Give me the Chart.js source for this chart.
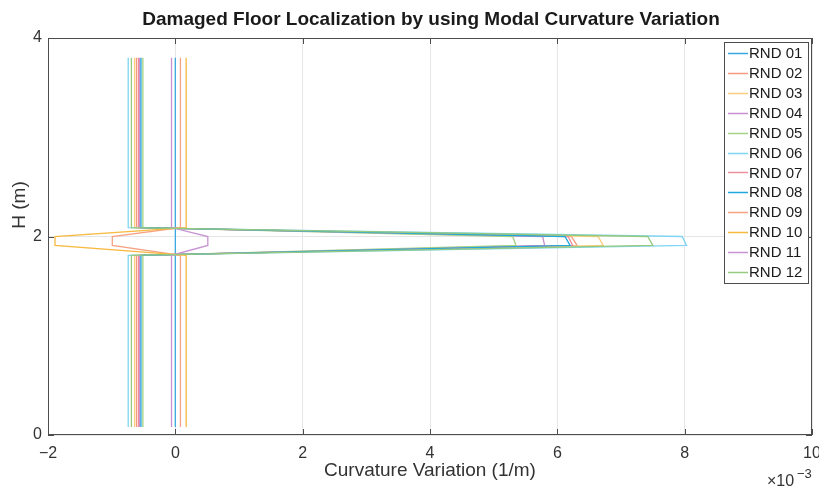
<!DOCTYPE html>
<html>
<head>
<meta charset="utf-8">
<script src="https://cdn.jsdelivr.net/npm/chart.js@4/dist/chart.umd.min.js"></script>
<style>
  body { margin: 0; background: #fff; }
  canvas { display: block; }
</style>
</head>
<body>
<canvas id="floorChart" width="819" height="486"></canvas>
<script>
// heights (m) where each curve changes direction
const heights = [0.08, 1.81, 1.91, 2.0, 2.09, 3.8];

// curvature variation (x 1e-3 1/m) at each height, one array per run
const rnd01 = [0, 0, 0, 0, 0, 0];
const rnd02 = [-0.61, -0.61, 6.31, 6.22, -0.61, -0.61];
const rnd03 = [-0.64, -0.64, 6.72, 6.64, -0.64, -0.64];
const rnd04 = [-0.56, -0.56, 5.80, 5.77, -0.56, -0.56];
const rnd05 = [-0.51, -0.51, 5.35, 5.30, -0.51, -0.51];
const rnd06 = [-0.74, -0.74, 8.03, 7.96, -0.74, -0.74];
const rnd07 = [-0.58, -0.58, 6.24, 6.17, -0.58, -0.58];
const rnd08 = [-0.54, -0.54, 6.20, 6.12, -0.54, -0.54];
const rnd09 = [0.08, 0.08, -0.99, -0.99, 0.08, 0.08];
const rnd10 = [0.17, 0.17, -1.89, -1.89, 0.17, 0.17];
const rnd11 = [-0.06, -0.06, 0.51, 0.51, -0.06, -0.06];
const rnd12 = [-0.69, -0.69, 7.50, 7.42, -0.69, -0.69];

const seriesNames = ["RND 01", "RND 02", "RND 03", "RND 04", "RND 05", "RND 06",
                     "RND 07", "RND 08", "RND 09", "RND 10", "RND 11", "RND 12"];
const seriesValues = [rnd01, rnd02, rnd03, rnd04, rnd05, rnd06,
                      rnd07, rnd08, rnd09, rnd10, rnd11, rnd12];
const seriesColors = ["#3aa8e0", "#f39a7c", "#fbcd7c", "#c98fd0", "#a5d283", "#7fd5f3",
                      "#ee909c", "#22a6de", "#f5a283", "#f8b940", "#c792d2", "#96ca7e"];

const xTicks = [-2, 0, 2, 4, 6, 8, 10];
const yTicks = [0, 2, 4];

const FONT = "'Liberation Sans', Arial, Helvetica, sans-serif";

// later runs drawn on top, as in the original plot
const datasets = seriesValues.map((vals, i) => ({
    label: seriesNames[i],
    data: vals.map((v, k) => ({ x: v, y: heights[k] })),
    borderColor: seriesColors[i],
    backgroundColor: seriesColors[i],
    borderWidth: 1.3,
    pointRadius: 0,
    showLine: true,
    tension: 0,
    fill: false,
    order: seriesValues.length - i
}));

// title, axis labels, box, inward ticks and legend drawn like the MATLAB figure
const decorations = {
    id: "decorations",
    afterDraw(chart) {
        const ctx = chart.ctx;
        const a = chart.chartArea;
        const xs = chart.scales.x, ys = chart.scales.y;
        ctx.save();

        // box
        ctx.strokeStyle = "#4d4d4d";
        ctx.lineWidth = 1;
        ctx.strokeRect(a.left + 0.5, a.top + 0.5, a.right - a.left - 1, a.bottom - a.top - 1);

        // inward ticks
        ctx.beginPath();
        xTicks.forEach(t => {
            const px = Math.round(xs.getPixelForValue(t)) + 0.5;
            ctx.moveTo(px, a.bottom); ctx.lineTo(px, a.bottom - 6);
            ctx.moveTo(px, a.top); ctx.lineTo(px, a.top + 6);
        });
        yTicks.forEach(t => {
            const py = Math.round(ys.getPixelForValue(t)) + 0.5;
            ctx.moveTo(a.left, py); ctx.lineTo(a.left + 6, py);
            ctx.moveTo(a.right, py); ctx.lineTo(a.right - 6, py);
        });
        ctx.stroke();

        // title
        ctx.fillStyle = "#1a1a1a";
        ctx.font = "bold 19px " + FONT;
        ctx.textAlign = "center";
        ctx.textBaseline = "middle";
        ctx.fillText("Damaged Floor Localization by using Modal Curvature Variation", 431, 20);

        // axis titles
        ctx.fillStyle = "#333";
        ctx.font = "19px " + FONT;
        ctx.fillText("Curvature Variation (1/m)", 430, 471);
        ctx.save();
        ctx.translate(20, 205);
        ctx.rotate(-Math.PI / 2);
        ctx.fillText("H (m)", 0, 0);
        ctx.restore();

        // exponent
        ctx.textAlign = "left";
        ctx.font = "16px " + FONT;
        ctx.fillText("\u00d710", 767, 482);
        ctx.font = "13px " + FONT;
        ctx.fillText("\u22123", 797, 474);

        // legend
        const lx = 724, ly = 42, lw = 84, lh = 241;
        ctx.fillStyle = "#fff";
        ctx.fillRect(lx, ly, lw, lh);
        ctx.strokeStyle = "#4d4d4d";
        ctx.lineWidth = 1;
        ctx.strokeRect(lx + 0.5, ly + 0.5, lw, lh);
        ctx.font = "15px " + FONT;
        ctx.textBaseline = "middle";
        seriesNames.forEach((name, i) => {
            const y = ly + 11 + i * 19.9;
            ctx.strokeStyle = seriesColors[i];
            ctx.lineWidth = 1.5;
            ctx.beginPath();
            ctx.moveTo(lx + 4, Math.round(y) + 0.5);
            ctx.lineTo(lx + 24, Math.round(y) + 0.5);
            ctx.stroke();
            ctx.fillStyle = "#1a1a1a";
            ctx.fillText(name, lx + 25, y + 1);
        });
        ctx.restore();
    }
};

const tickLabel = v => (v < 0 ? "\u2212" + Math.abs(v) : String(v));

new Chart(document.getElementById("floorChart"), {
    type: "scatter",
    data: { datasets: datasets },
    options: {
        responsive: false,
        animation: false,
        layout: { padding: { top: 38, right: 7, left: 0, bottom: 0 } },
        plugins: {
            legend: { display: false },
            title: { display: false },
            tooltip: { enabled: false }
        },
        scales: {
            x: {
                type: "linear",
                min: -2,
                max: 10,
                afterFit: s => { s.height = 51; s.paddingLeft = 0; s.paddingRight = 0; },
                afterBuildTicks: s => { s.ticks = xTicks.map(v => ({ value: v })); },
                ticks: { padding: 9, color: "#333", font: { family: FONT, size: 16 }, callback: tickLabel },
                grid: { color: "#e6e6e6", drawTicks: false },
                border: { display: false }
            },
            y: {
                type: "linear",
                min: 0,
                max: 4,
                afterFit: s => { s.width = 48; s.paddingTop = 0; s.paddingBottom = 0; },
                afterBuildTicks: s => { s.ticks = yTicks.map(v => ({ value: v })); },
                ticks: { padding: 6, color: "#333", font: { family: FONT, size: 16 }, callback: tickLabel },
                grid: { color: "#e6e6e6", drawTicks: false },
                border: { display: false }
            }
        }
    },
    plugins: [decorations]
});
</script>
</body>
</html>
